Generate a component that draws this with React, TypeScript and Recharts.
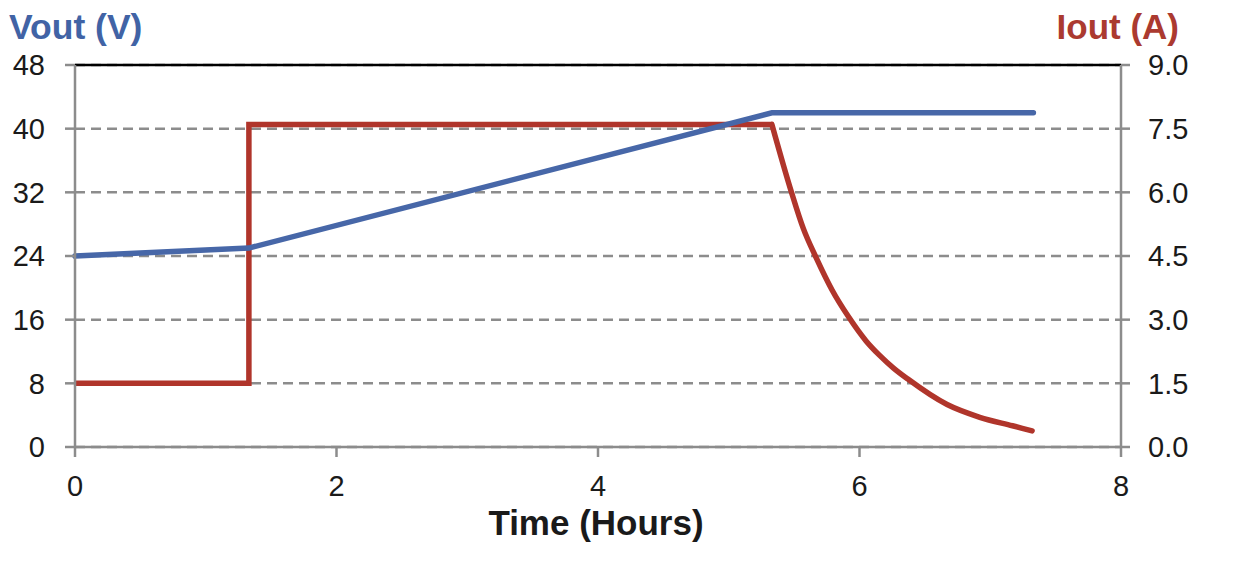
import React from 'react';
import { ComposedChart, Line, XAxis, YAxis, CartesianGrid, ReferenceLine } from 'recharts';

const timeTicks = [0, 2, 4, 6, 8];
const voutTicks = [0, 8, 16, 24, 32, 40, 48];
const ioutTicks = [0, 1.5, 3, 4.5, 6, 7.5, 9];

const voutData = [
  { t: 0, v: 24 },
  { t: 1.33, v: 25 },
  { t: 5.33, v: 42 },
  { t: 7.33, v: 42 },
];

const ioutStepData = [
  { t: 0, i: 1.5 },
  { t: 1.33, i: 1.5 },
  { t: 1.33, i: 7.6 },
  { t: 5.33, i: 7.6 },
];

const ioutDecayData = [
  { t: 5.33, i: 7.6 },
  { t: 5.48, i: 6.0 },
  { t: 5.57, i: 5.15 },
  { t: 5.67, i: 4.45 },
  { t: 5.79, i: 3.7 },
  { t: 5.92, i: 3.05 },
  { t: 6.05, i: 2.5 },
  { t: 6.15, i: 2.17 },
  { t: 6.26, i: 1.86 },
  { t: 6.37, i: 1.6 },
  { t: 6.67, i: 1.0 },
  { t: 6.92, i: 0.7 },
  { t: 7.17, i: 0.5 },
  { t: 7.32, i: 0.38 },
];

const BLUE = '#4767a8';
const RED = '#b0352b';
const GRAY = '#8c8c8c';
const FONT = '"Liberation Sans", Arial, sans-serif';

export default function App() {
  const tickStyle = { fontSize: 29, fill: '#1a1a1a', fontFamily: FONT };
  return (
    <div style={{ position: 'absolute', left: 0, top: 0, width: 1238, height: 566, background: '#fff' }}>
      <ComposedChart width={1238} height={566} margin={{ top: 65, right: 0, bottom: 0, left: 0 }}>
        <CartesianGrid
          yAxisId="v"
          vertical={false}
          stroke={GRAY}
          strokeWidth={2.5}
          strokeDasharray="10 6"
        />
        <XAxis
          dataKey="t"
          type="number"
          domain={[0, 8]}
          ticks={timeTicks}
          height={119}
          tickSize={10}
          tickMargin={18}
          stroke={GRAY}
          strokeWidth={2.5}
          tick={tickStyle}
          tickLine={{ stroke: GRAY, strokeWidth: 2.5 }}
          allowDuplicatedCategory
        />
        <YAxis
          yAxisId="v"
          orientation="left"
          domain={[0, 48]}
          ticks={voutTicks}
          width={75}
          tickSize={10}
          tickMargin={20}
          stroke={GRAY}
          strokeWidth={2.5}
          tick={tickStyle}
          tickLine={{ stroke: GRAY, strokeWidth: 2.5 }}
        />
        <YAxis
          yAxisId="i"
          orientation="right"
          domain={[0, 9]}
          ticks={ioutTicks}
          width={117}
          tickSize={9}
          tickMargin={18}
          stroke={GRAY}
          strokeWidth={2.5}
          tick={tickStyle}
          tickFormatter={(v: number) => v.toFixed(1)}
          tickLine={{ stroke: GRAY, strokeWidth: 2.5 }}
        />
        <ReferenceLine yAxisId="v" y={48} stroke="#000" strokeWidth={2.5} />
        <Line
          yAxisId="i"
          data={ioutStepData}
          dataKey="i"
          type="linear"
          stroke={RED}
          strokeWidth={5.5}
          dot={false}
          activeDot={false}
          strokeLinejoin="miter"
          isAnimationActive={false}
        />
        <Line
          yAxisId="i"
          data={ioutDecayData}
          dataKey="i"
          type="monotone"
          stroke={RED}
          strokeWidth={5.5}
          dot={false}
          activeDot={false}
          strokeLinecap="round"
          isAnimationActive={false}
        />
        <Line
          yAxisId="v"
          data={voutData}
          dataKey="v"
          type="linear"
          stroke={BLUE}
          strokeWidth={5.5}
          dot={false}
          activeDot={false}
          strokeLinecap="round"
          isAnimationActive={false}
        />
      </ComposedChart>
      <svg
        width={1238}
        height={566}
        style={{ position: 'absolute', left: 0, top: 0, pointerEvents: 'none' }}
      >
        <text x={9} y={39} fontFamily={FONT} fontWeight="bold" fontSize={35.5} fill="#4163a5">
          Vout (V)
        </text>
        <text x={1179} y={39} textAnchor="end" fontFamily={FONT} fontWeight="bold" fontSize={35} fill="#ab3a30">
          Iout (A)
        </text>
        <text x={596} y={535} textAnchor="middle" fontFamily={FONT} fontWeight="bold" fontSize={35} fill="#1a1a1a">
          Time (Hours)
        </text>
      </svg>
    </div>
  );
}
